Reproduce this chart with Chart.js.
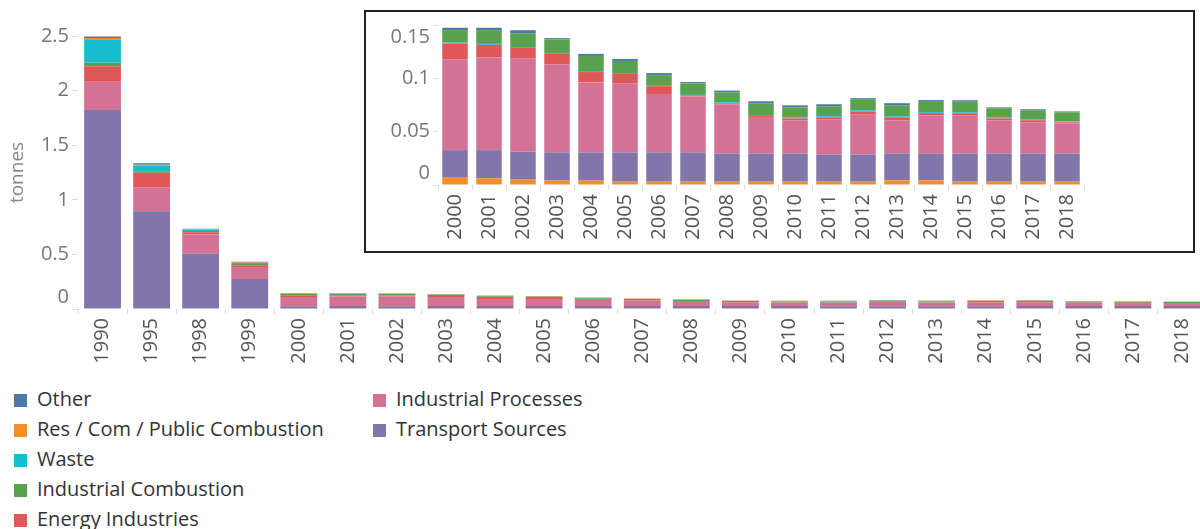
<!DOCTYPE html>
<html>
<head>
<meta charset="utf-8">
<script src="https://cdn.jsdelivr.net/npm/chart.js@4/dist/chart.umd.min.js"></script>
<style>
  html, body { margin: 0; padding: 0; background: #fff; overflow: hidden; }
  #wrap { position: relative; width: 1200px; height: 529px; overflow: hidden; }
  #mainBox { position: absolute; left: 0; top: 0; width: 1210px; height: 372px; }
  #insetBox { position: absolute; left: 364px; top: 10px; width: 827px; height: 239px;
    border: 2px solid #222; background: #fff; }
  #legend { position: absolute; left: 14px; top: 384px; font-family: "Open Sans", sans-serif;
    font-size: 20px; color: #333; }
  .col { position: absolute; top: 0; width: 340px; }
  .item { height: 30px; line-height: 30px; white-space: nowrap; }
  .sw { display: inline-block; width: 13px; height: 13px; margin-right: 10px; vertical-align: -1px; }
</style>
</head>
<body>
<div id="wrap">
  <div id="mainBox"><canvas id="main"></canvas></div>
  <div id="insetBox"><canvas id="inset"></canvas></div>
  <div id="legend"></div>
</div>
<script>
  // years on the main axis
  const years = ["1990", "1995", "1998", "1999", "2000", "2001", "2002", "2003", "2004", "2005",
    "2006", "2007", "2008", "2009", "2010", "2011", "2012", "2013", "2014", "2015", "2016", "2017", "2018"];

  // tonnes per source
  const transport = [1.823, 0.896, 0.505, 0.275, 0.0252, 0.0264, 0.0261, 0.0264, 0.0264, 0.0274,
    0.0274, 0.0274, 0.0264, 0.0264, 0.0264, 0.0255, 0.0255, 0.0252, 0.0252, 0.0264, 0.0264, 0.0264, 0.0264];
  const industrialProcesses = [0.257, 0.220, 0.177, 0.110, 0.0852, 0.0871, 0.0877, 0.0827, 0.0657, 0.0648,
    0.0547, 0.0525, 0.0462, 0.0343, 0.0311, 0.0330, 0.0377, 0.0311, 0.0359, 0.0359, 0.0311, 0.0293, 0.0283];
  const energy = [0.144, 0.131, 0.021, 0.015, 0.0148, 0.0116, 0.0097, 0.0097, 0.0097, 0.0088,
    0.0075, 0.0006, 0.0009, 0.0009, 0.0019, 0.0019, 0.0025, 0.0028, 0.0019, 0.0019, 0.0019, 0.0019, 0.0009];
  const industrialCombustion = [0.031, 0.015, 0.012, 0.012, 0.0116, 0.0129, 0.0129, 0.0126, 0.0142, 0.0113,
    0.0094, 0.0107, 0.0094, 0.0110, 0.0094, 0.0094, 0.0104, 0.0104, 0.0104, 0.0104, 0.0085, 0.0085, 0.0085];
  const waste = [0.208, 0.052, 0.009, 0.009, 0.0009, 0.0009, 0.0009, 0.0009, 0.0009, 0.0009,
    0.0009, 0.0009, 0.0009, 0.0009, 0.0009, 0.0009, 0.0013, 0.0009, 0.0009, 0.0009, 0.0009, 0.0009, 0.0009];
  const resCom = [0.018, 0.008, 0.004, 0.004, 0.0075, 0.0063, 0.0050, 0.0041, 0.0041, 0.0031,
    0.0031, 0.0031, 0.0031, 0.0031, 0.0031, 0.0031, 0.0031, 0.0044, 0.0044, 0.0031, 0.0031, 0.0031, 0.0031];
  const other = [0.015, 0.012, 0.008, 0.008, 0.0022, 0.0022, 0.0028, 0.0013, 0.0019, 0.0019,
    0.0019, 0.0013, 0.0016, 0.0019, 0.0019, 0.0019, 0.0009, 0.0019, 0.0009, 0.0009, 0.0009, 0.0009, 0.0009];

  const mainTicks = [0, 0.5, 1, 1.5, 2, 2.5];
  const insetTicks = [0, 0.05, 0.1, 0.15];
  const insetStart = 4; // 2000 onwards

  const series = {
    other: { label: "Other", data: other, color: "#4e79a7" },
    resCom: { label: "Res / Com / Public Combustion", data: resCom, color: "#f28e2b" },
    waste: { label: "Waste", data: waste, color: "#17bdcf" },
    indComb: { label: "Industrial Combustion", data: industrialCombustion, color: "#59a14f" },
    energy: { label: "Energy Industries", data: energy, color: "#e15759" },
    indProc: { label: "Industrial Processes", data: industrialProcesses, color: "#d37295" },
    transport: { label: "Transport Sources", data: transport, color: "#8175aa" },
  };

  // bottom to top
  const mainOrder = ["transport", "indProc", "energy", "indComb", "waste", "resCom", "other"];
  const insetOrder = ["resCom", "transport", "indProc", "energy", "waste", "indComb", "other"];
  const legendCols = [["other", "resCom", "waste", "indComb", "energy"], ["indProc", "transport"]];

  const tickFont = { family: "'Open Sans', sans-serif", size: 20 };

  function makeSets(order, start) {
    return order.map(k => ({
      label: series[k].label,
      data: series[k].data.slice(start),
      backgroundColor: series[k].color,
      borderWidth: 0,
      barPercentage: 0.75,
      categoryPercentage: 1,
    }));
  }

  function fixedTicks(vals) {
    return function (axis) { axis.ticks = vals.map(v => ({ value: v })); };
  }

  // end labels get nudged inwards like the original
  function yLabel(top, nudgeTop) {
    return function (v) {
      const s = String(+v.toFixed(3));
      if (v === 0) return [s, ""];
      if (nudgeTop && v === top) return ["", s];
      return s;
    };
  }

  function fitY(w) {
    return function (a) { a.width = w; a.paddingTop = 0; a.paddingBottom = 0; };
  }

  new Chart(document.getElementById("main"), {
    type: "bar",
    data: { labels: years, datasets: makeSets(mainOrder, 0) },
    options: {
      responsive: true,
      maintainAspectRatio: false,
      animation: false,
      layout: { padding: { top: 36, right: 0, left: 0 } },
      plugins: { legend: { display: false }, tooltip: { enabled: false } },
      scales: {
        x: {
          stacked: true,
          grid: { drawOnChartArea: false, offset: true, tickLength: 5, color: "#ddd" },
          border: { display: false },
          ticks: { font: tickFont, color: "#555", minRotation: 90, maxRotation: 90, padding: 4, autoSkip: false },
          afterFit: a => { a.height = 63; },
        },
        y: {
          stacked: true,
          min: 0,
          max: 2.5,
          afterBuildTicks: fixedTicks(mainTicks),
          grid: { drawOnChartArea: false, tickLength: 6, color: "#ddd" },
          border: { display: false },
          ticks: { font: tickFont, color: "#777", padding: 3, callback: yLabel(2.5, false) },
          title: { display: true, text: "tonnes", font: { family: "'Open Sans', sans-serif", size: 19 }, color: "#888", padding: { top: 6, bottom: 0 } },
          afterFit: fitY(78),
        },
      },
    },
  });

  new Chart(document.getElementById("inset"), {
    type: "bar",
    data: { labels: years.slice(insetStart), datasets: makeSets(insetOrder, insetStart) },
    options: {
      responsive: true,
      maintainAspectRatio: false,
      animation: false,
      layout: { padding: { top: 13, right: 109, left: 0 } },
      plugins: { legend: { display: false }, tooltip: { enabled: false } },
      scales: {
        x: {
          stacked: true,
          grid: { drawOnChartArea: false, offset: true, tickLength: 5, color: "#ddd" },
          border: { display: false },
          ticks: { font: tickFont, color: "#555", minRotation: 90, maxRotation: 90, padding: 4, autoSkip: false },
          afterFit: a => { a.height = 66; },
        },
        y: {
          stacked: true,
          min: 0,
          max: 0.15,
          afterBuildTicks: fixedTicks(insetTicks),
          grid: { drawOnChartArea: false, tickLength: 5, color: "#ddd" },
          border: { display: false },
          ticks: { font: tickFont, color: "#777", padding: 3, callback: yLabel(0.15, true) },
          afterFit: fitY(72),
        },
      },
    },
  });

  // legend in two columns
  const legend = document.getElementById("legend");
  legendCols.forEach((keys, i) => {
    const col = document.createElement("div");
    col.className = "col";
    col.style.left = (i * 359) + "px";
    keys.forEach(k => {
      const row = document.createElement("div");
      row.className = "item";
      row.innerHTML = '<span class="sw" style="background:' + series[k].color + '"></span>' + series[k].label;
      col.appendChild(row);
    });
    legend.appendChild(col);
  });
</script>
</body>
</html>
